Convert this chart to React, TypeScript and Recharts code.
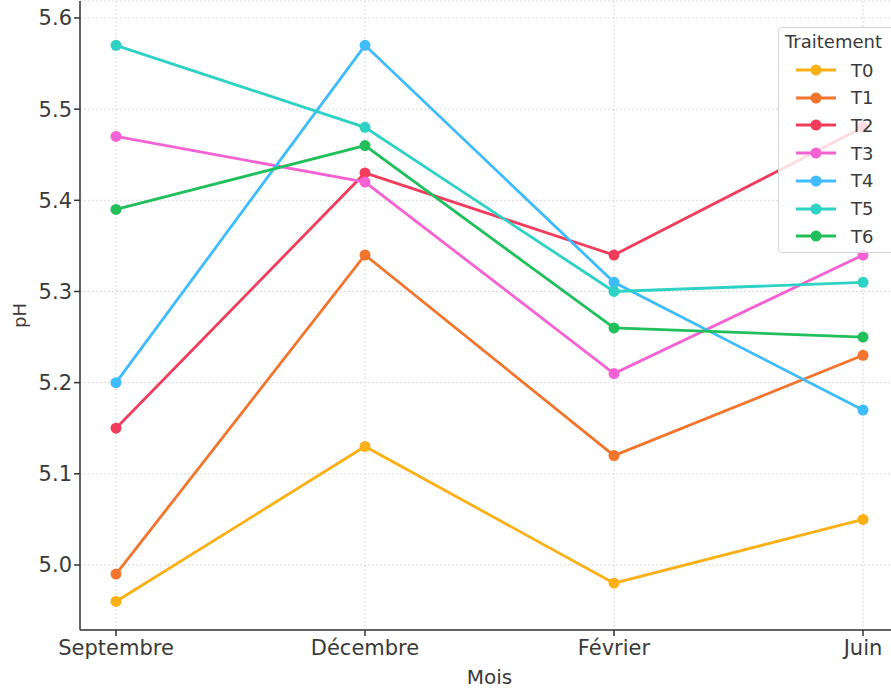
import { LineChart, Line, XAxis, YAxis, CartesianGrid } from 'recharts';

const MONTHS = ['Septembre', 'Décembre', 'Février', 'Juin'];
const T0 = [4.96, 5.13, 4.98, 5.05];
const T1 = [4.99, 5.34, 5.12, 5.23];
const T2 = [5.15, 5.43, 5.34, 5.48];
const T3 = [5.47, 5.42, 5.21, 5.34];
const T4 = [5.2, 5.57, 5.31, 5.17];
const T5 = [5.57, 5.48, 5.3, 5.31];
const T6 = [5.39, 5.46, 5.26, 5.25];
const Y_TICKS = [5.0, 5.1, 5.2, 5.3, 5.4, 5.5, 5.6];

const SERIES = [
  { key: 'T0', values: T0, color: '#fbb016' },
  { key: 'T1', values: T1, color: '#f3742c' },
  { key: 'T2', values: T2, color: '#f23c5c' },
  { key: 'T3', values: T3, color: '#f662d4' },
  { key: 'T4', values: T4, color: '#3ebcfb' },
  { key: 'T5', values: T5, color: '#2dd2c5' },
  { key: 'T6', values: T6, color: '#20bf5c' },
];

const data = MONTHS.map((month, i) => {
  const row: Record<string, string | number> = { month };
  SERIES.forEach((s) => {
    row[s.key] = s.values[i];
  });
  return row;
});

const FONT = '"DejaVu Sans", sans-serif';

export default function App() {
  return (
    <div style={{ position: 'absolute', left: 0, top: 0, width: 891, height: 691, overflow: 'hidden', background: '#fff', fontFamily: FONT }}>
      <LineChart width={910} height={691} data={data} margin={{ top: 1, right: 11, bottom: 0, left: 0 }}>
        <CartesianGrid stroke="#d9d9d9" strokeDasharray="2 2" />
        <XAxis
          dataKey="month"
          padding={{ left: 36, right: 36 }}
          height={61}
          tickSize={6}
          tickMargin={4}
          tick={{ fill: '#3a3a3a', fontSize: 21, fontFamily: FONT }}
          stroke="#333"
          strokeWidth={1.5}
          label={{ value: 'Mois', position: 'insideBottom', offset: 7, fill: '#3a3a3a', fontSize: 20, fontFamily: FONT }}
        />
        <YAxis
          type="number"
          domain={[4.9287, 5.6186]}
          ticks={Y_TICKS}
          tickFormatter={(v: number) => v.toFixed(1)}
          width={80}
          tickSize={6}
          tickMargin={2}
          tick={{ fill: '#3a3a3a', fontSize: 21, fontFamily: FONT }}
          stroke="#333"
          strokeWidth={1.5}
          label={{ value: 'pH', angle: -90, position: 'insideLeft', offset: 20, fill: '#3a3a3a', fontSize: 18, fontFamily: FONT, style: { textAnchor: 'middle' } }}
        />
        {SERIES.map((s) => (
          <Line
            key={s.key}
            type="linear"
            dataKey={s.key}
            stroke={s.color}
            strokeWidth={2.8}
            dot={{ r: 5.5, fill: s.color, stroke: s.color, strokeWidth: 0 }}
            isAnimationActive={false}
          />
        ))}
      </LineChart>
      <div
        style={{
          position: 'absolute',
          left: 778,
          top: 27,
          width: 130,
          height: 226,
          background: 'rgba(255,255,255,0.82)',
          border: '1px solid #d6d6d6',
          borderRadius: 4,
          boxSizing: 'border-box',
        }}
      >
        <div style={{ position: 'absolute', left: 6, top: 3, fontSize: 18, color: '#3a3a3a' }}>Traitement</div>
        {SERIES.map((s, i) => (
          <div key={s.key} style={{ position: 'absolute', left: 16, top: 31 + i * 27.7, height: 22, display: 'flex', alignItems: 'center' }}>
            <svg width={42} height={22}>
              <line x1={1} y1={11} x2={41} y2={11} stroke={s.color} strokeWidth={2.8} />
              <circle cx={21} cy={11} r={5.5} fill={s.color} />
            </svg>
            <span style={{ marginLeft: 14, fontSize: 18, color: '#3a3a3a' }}>{s.key}</span>
          </div>
        ))}
      </div>
    </div>
  );
}
